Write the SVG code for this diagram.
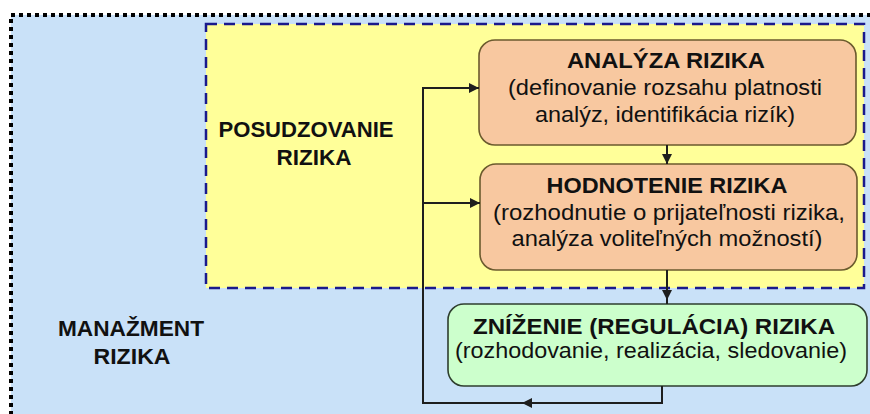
<svg xmlns="http://www.w3.org/2000/svg" width="870" height="414" viewBox="0 0 870 414">
<defs>
<style>
text{font-family:"Liberation Sans",Arial,sans-serif;fill:#111;text-anchor:middle;font-size:22px}
.b{font-weight:bold}
.box{stroke-width:1.6}
.c{fill:none;stroke:#1e1e1e;stroke-width:2}
</style>
<marker id="ah" viewBox="0 0 10 10" refX="10" refY="5" markerWidth="10" markerHeight="10" markerUnits="userSpaceOnUse" orient="auto">
<path d="M0,0 L10,5 L0,10 z" fill="#1e1e1e"/>
</marker>
</defs>
<rect width="870" height="414" fill="#ffffff"/>
<g id="manazment">
<rect x="11" y="15" width="880" height="420" fill="#c9e1f8" stroke="#000" stroke-width="4" stroke-dasharray="4 4"/>
<text class="b" x="131" y="336" textLength="146" lengthAdjust="spacingAndGlyphs">MANAŽMENT</text>
<text class="b" x="132" y="364" textLength="77" lengthAdjust="spacingAndGlyphs">RIZIKA</text>
</g>
<g id="posudzovanie">
<rect x="206" y="24" width="658" height="264" fill="#ffff99" stroke="#1a1a8c" stroke-width="2.5" stroke-dasharray="11 7"/>
<text class="b" x="306" y="137" textLength="175" lengthAdjust="spacingAndGlyphs">POSUDZOVANIE</text>
<text class="b" x="314" y="165" textLength="75" lengthAdjust="spacingAndGlyphs">RIZIKA</text>
</g>
<g id="analyza">
<rect class="box" x="479" y="40" width="377" height="105" rx="16" fill="#f8c8a0" stroke="#6b5a2e"/>
<text class="b" x="666" y="68" textLength="198" lengthAdjust="spacingAndGlyphs">ANALÝZA RIZIKA</text>
<text x="665" y="95" textLength="314" lengthAdjust="spacingAndGlyphs">(definovanie rozsahu platnosti</text>
<text x="665" y="122" textLength="260" lengthAdjust="spacingAndGlyphs">analýz, identifikácia rizík)</text>
</g>
<g id="hodnotenie">
<rect class="box" x="480" y="164" width="377" height="106" rx="16" fill="#f8c8a0" stroke="#6b5a2e"/>
<text class="b" x="667" y="193" textLength="241" lengthAdjust="spacingAndGlyphs">HODNOTENIE RIZIKA</text>
<text x="669" y="220" textLength="352" lengthAdjust="spacingAndGlyphs">(rozhodnutie o prijateľnosti rizika,</text>
<text x="667" y="246" textLength="311" lengthAdjust="spacingAndGlyphs">analýza voliteľných možností)</text>
</g>
<g id="znizenie">
<rect class="box" x="448" y="304" width="419" height="82" rx="16" fill="#ccffcc" stroke="#2e3e2e"/>
<text class="b" x="654" y="334" textLength="362" lengthAdjust="spacingAndGlyphs">ZNÍŽENIE (REGULÁCIA) RIZIKA</text>
<text x="651" y="358" textLength="392" lengthAdjust="spacingAndGlyphs">(rozhodovanie, realizácia, sledovanie)</text>
</g>
<g id="connectors">
<line class="c" x1="667" y1="145" x2="667" y2="164" marker-end="url(#ah)"/>
<line class="c" x1="667" y1="270" x2="667" y2="300" marker-end="url(#ah)"/>
<line class="c" x1="667" y1="298" x2="667" y2="304"/>
<polyline class="c" points="662,386 662,403 423,403 423,88 479,88"/>
<line class="c" x1="662" y1="403" x2="522" y2="403" marker-end="url(#ah)"/>
<line class="c" x1="423" y1="88" x2="479" y2="88" marker-end="url(#ah)"/>
<line class="c" x1="423" y1="203" x2="480" y2="203" marker-end="url(#ah)"/>
</g>
</svg>
